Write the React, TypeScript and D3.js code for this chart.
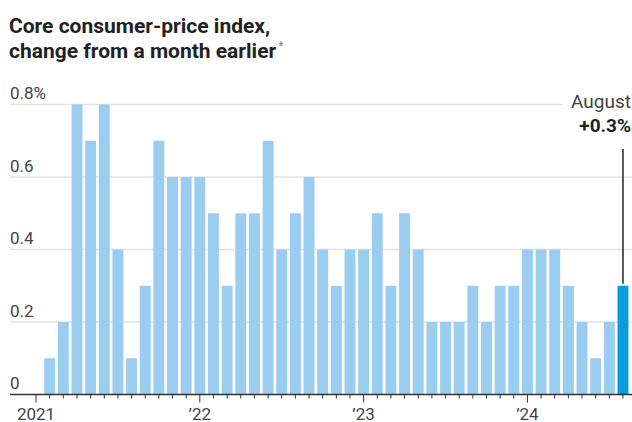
import React, { useEffect, useRef } from "react";
import * as d3 from "d3";

// Monthly change in core CPI, Jan 2021 - Aug 2024 (percent)
const months: string[] = d3
  .range(44)
  .map((i) => d3.timeFormat("%Y-%m")(new Date(2021, i, 1)));
const values: number[] = [
  0.0, 0.1, 0.2, 0.8, 0.7, 0.8, 0.4, 0.1, 0.3, 0.7, 0.6, 0.6,
  0.6, 0.5, 0.3, 0.5, 0.5, 0.7, 0.4, 0.5, 0.6, 0.4, 0.3, 0.4,
  0.4, 0.5, 0.3, 0.5, 0.4, 0.2, 0.2, 0.2, 0.3, 0.2, 0.3, 0.3,
  0.4, 0.4, 0.4, 0.3, 0.2, 0.1, 0.2, 0.3,
];
const yTicks: number[] = [0, 0.2, 0.4, 0.6, 0.8];
const yTickLabels: string[] = ["0", "0.2", "0.4", "0.6", "0.8%"];
const yearTicks: string[] = ["2021-01", "2022-01", "2023-01", "2024-01"];
const yearLabels: string[] = ["2021", "\u201922", "\u201923", "\u201924"];

const W = 632;
const H = 422;
const FONT = "Roboto, 'Liberation Sans', sans-serif";

const App = () => {
  const svgRef = useRef<SVGSVGElement>(null);

  useEffect(() => {
    const svg = d3.select(svgRef.current);
    svg.selectAll("*").remove();

    const x = d3
      .scaleBand()
      .domain(months)
      .range([29.2, 629.8])
      .paddingInner(0.2)
      .paddingOuter(0.1);
    const y = d3.scaleLinear().domain([0, 0.8]).range([394.5, 104.5]);
    const cx = (m: string) => (x(m) as number) + x.bandwidth() / 2;

    // Title
    const title = svg
      .append("text")
      .attr("x", 9)
      .style("font-family", FONT)
      .style("font-weight", "bold")
      .style("font-size", "21px")
      .style("fill", "#222");
    title.append("tspan").attr("x", 9).attr("y", 33).text("Core consumer-price index,");
    title.append("tspan").attr("x", 9).attr("y", 58).text("change from a month earlier");
    title
      .append("tspan")
      .attr("dy", -8)
      .attr("dx", 2)
      .style("font-size", "12px")
      .style("font-weight", "normal")
      .style("fill", "#888")
      .text("*");

    // Grid lines
    yTicks
      .filter((v) => v > 0)
      .forEach((v) => {
        svg
          .append("line")
          .attr("x1", 10)
          .attr("x2", v === 0.8 ? 563 : W)
          .attr("y1", y(v))
          .attr("y2", y(v))
          .style("stroke", "#e3e3e3")
          .style("stroke-width", 1.5);
      });

    // Y labels
    yTicks.forEach((v, i) => {
      svg
        .append("text")
        .attr("x", 10)
        .attr("y", y(v) - 5.5)
        .style("font-family", FONT)
        .style("font-size", "17px")
        .style("fill", "#444")
        .text(yTickLabels[i]);
    });

    // Bars
    svg
      .append("g")
      .selectAll("rect")
      .data(values)
      .enter()
      .append("rect")
      .attr("x", (d, i) => x(months[i]) as number)
      .attr("y", (d) => y(d))
      .attr("width", x.bandwidth())
      .attr("height", (d) => y(0) - y(d))
      .attr("fill", (d, i) => (i === values.length - 1 ? "#0a9bdc" : "#9acdef"));

    // Baseline
    svg
      .append("line")
      .attr("x1", 10)
      .attr("x2", W)
      .attr("y1", y(0))
      .attr("y2", y(0))
      .style("stroke", "#333")
      .style("stroke-width", 1.5);

    // Month ticks
    months.forEach((m) => {
      const isYear = yearTicks.includes(m);
      svg
        .append("line")
        .attr("x1", cx(m))
        .attr("x2", cx(m))
        .attr("y1", y(0))
        .attr("y2", y(0) + (isYear ? 8 : 4))
        .style("stroke", "#333")
        .style("stroke-width", 1);
    });

    // Year labels
    yearTicks.forEach((m, i) => {
      svg
        .append("text")
        .attr("x", cx(m))
        .attr("y", 419.5)
        .attr("text-anchor", "middle")
        .style("font-family", FONT)
        .style("font-size", "17px")
        .style("fill", "#444")
        .text(yearLabels[i]);
    });

    // Annotation for the latest month
    const last = months[months.length - 1];
    const lastVal = values[values.length - 1];
    svg
      .append("line")
      .attr("x1", cx(last))
      .attr("x2", cx(last))
      .attr("y1", 149)
      .attr("y2", y(lastVal) - 2)
      .style("stroke", "#222")
      .style("stroke-width", 1.5);
    svg
      .append("text")
      .attr("x", 631)
      .attr("y", 108)
      .attr("text-anchor", "end")
      .style("font-family", FONT)
      .style("font-size", "19px")
      .style("fill", "#444")
      .text("August");
    svg
      .append("text")
      .attr("x", 631)
      .attr("y", 132)
      .attr("text-anchor", "end")
      .style("font-family", FONT)
      .style("font-size", "19px")
      .style("font-weight", "bold")
      .style("fill", "#222")
      .text(`+${lastVal.toFixed(1)}%`);
  }, []);

  return (
    <svg
      ref={svgRef}
      width={W}
      height={H}
      style={{ position: "absolute", left: 0, top: 0, background: "#fff" }}
    />
  );
};

export default App;
